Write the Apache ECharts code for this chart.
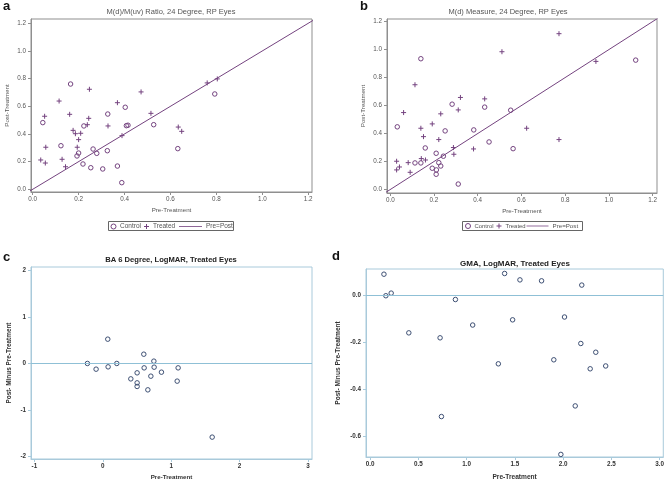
<!DOCTYPE html>
<html>
<head>
<meta charset="utf-8">
<script src="https://cdn.jsdelivr.net/npm/echarts@6/dist/echarts.min.js"></script>
<style>html,body{margin:0;padding:0;background:#fff}#c{width:667px;height:483px}</style>
</head>
<body>
<div id="c"></div>
<script>
// ---- Data ----
const aControl = [[0.165,0.761],[0.327,0.544],[0.403,0.593],[0.793,0.689],[0.044,0.482],[0.223,0.458],[0.200,0.262],[0.193,0.241],[0.123,0.315],[0.219,0.183],[0.253,0.156],[0.263,0.291],[0.279,0.260],[0.305,0.147],[0.325,0.279],[0.369,0.168],[0.388,0.048],[0.408,0.460],[0.415,0.463],[0.527,0.467],[0.632,0.294]];
const aTreated = [[0.115,0.638],[0.247,0.723],[0.052,0.528],[0.161,0.542],[0.244,0.513],[0.369,0.626],[0.472,0.704],[0.515,0.549],[0.760,0.769],[0.804,0.798],[0.238,0.467],[0.176,0.426],[0.186,0.402],[0.209,0.405],[0.200,0.359],[0.194,0.304],[0.057,0.304],[0.035,0.212],[0.055,0.190],[0.128,0.217],[0.143,0.163],[0.328,0.458],[0.389,0.388],[0.634,0.450],[0.649,0.419]];
const bControl = [[0.140,0.935],[1.123,0.925],[0.283,0.610],[0.432,0.589],[0.551,0.567],[0.032,0.448],[0.251,0.419],[0.382,0.426],[0.160,0.297],[0.452,0.340],[0.562,0.292],[0.210,0.259],[0.243,0.238],[0.140,0.190],[0.113,0.190],[0.222,0.192],[0.231,0.168],[0.192,0.152],[0.211,0.140],[0.210,0.109],[0.311,0.039]];
const bTreated = [[0.511,0.985],[0.772,1.114],[0.941,0.916],[0.113,0.749],[0.321,0.658],[0.432,0.648],[0.311,0.569],[0.061,0.550],[0.231,0.541],[0.140,0.438],[0.192,0.469],[0.152,0.378],[0.222,0.357],[0.624,0.438],[0.772,0.357],[0.381,0.290],[0.289,0.300],[0.291,0.252],[0.142,0.221],[0.161,0.211],[0.082,0.192],[0.029,0.202],[0.042,0.161],[0.029,0.140],[0.091,0.123]];
const cPoints = [[0.073,0.524],[0.600,0.200],[-0.225,0.0],[-0.098,-0.123],[0.078,-0.073],[0.205,0.0],[0.747,0.05],[0.605,-0.095],[0.751,-0.08],[1.102,-0.095],[0.502,-0.202],[0.858,-0.188],[0.410,-0.332],[0.703,-0.274],[0.502,-0.418],[0.502,-0.496],[0.659,-0.569],[1.088,-0.381],[1.600,-1.588]];
const dPoints = [[0.142,0.087],[0.162,-0.004],[0.217,0.007],[0.400,-0.161],[0.724,-0.182],[0.883,-0.020],[1.062,-0.128],[1.393,0.090],[1.476,-0.106],[1.552,0.063],[1.776,0.059],[2.014,-0.094],[2.193,0.041],[2.183,-0.206],[2.338,-0.243],[1.328,-0.292],[1.903,-0.275],[2.280,-0.313],[2.441,-0.301],[2.125,-0.470],[0.738,-0.515],[1.976,-0.675]];
const abTicks = [0,0.2,0.4,0.6,0.8,1.0,1.2];
const cXTicks = [-1,0,1,2,3];
const cYTicks = [-2,-1,0,1,2];
const dXTicks = [0,0.5,1.0,1.5,2.0,2.5,3.0];
const dYTicks = [-0.6,-0.4,-0.2,0.0];
const prePostLine = [[-0.1,-0.1],[1.3,1.3]];
const legendNames = ['Control','Treated','Pre=Post'];

// ---- Styles ----
const FONT = 'Liberation Sans';
const PURPLE = '#74437f';
const GRAYF = '#8f8f8f';
const BLUEF = '#a9cadb';
const BLUEREF = '#8fc0d6';
const CMARK = '#3d4f73';
const PLUS = 'path://M5,0L5,10M0,5L10,5';
const LINEICON = 'path://M0,0L40,0L40,1.4L0,1.4Z';

function axis(idx, ticks, min, max, color, labelColor, name, nameGap, dec, isY, nameSize, bold){
  return {
    type:'value', gridIndex:idx, min:min, max:max,
    name:name, nameLocation:'middle', nameGap:nameGap,
    nameTextStyle:{fontFamily:FONT,fontSize:nameSize,color:labelColor, fontWeight: bold?'bold':'normal'},
    axisLine:{show:true,onZero:false,lineStyle:{color:color,width:1}},
    axisTick:{show:true,length:3,customValues:ticks,lineStyle:{color:color}},
    axisLabel:{show:true,customValues:ticks,fontFamily:FONT,fontSize:6.3,color:labelColor,margin:isY?5:4,
      fontWeight: bold?'bold':'normal',
      formatter:function(v){return v.toFixed(dec);}},
    splitLine:{show:false}
  };
}
function pTitle(text,x,y,bold,color,size){
  return {text:text,left:x,top:y,textAlign:'center',padding:0,
    textStyle:{fontFamily:FONT,fontSize:size,fontWeight:bold?'bold':'normal',color:color}};
}
function letter(t,x,y){
  return {text:t,left:x,top:y,padding:0,textStyle:{fontFamily:FONT,fontSize:13,fontWeight:'bold',color:'#111'}};
}
function scat(name,data,xi,yi,sym,color,size){
  return {type:'scatter',name:name,xAxisIndex:xi,yAxisIndex:yi,data:data,symbol:sym,symbolSize:size,
    itemStyle:{color:'transparent',borderColor:color,borderWidth:1,opacity:1},
    emphasis:{disabled:true},silent:true,z:3};
}
function leg(name,x,y,icon,w,h,fs){
  return {left:x,top:y,padding:0,itemGap:0,itemWidth:w,itemHeight:h,selectedMode:false,
    textStyle:{fontFamily:FONT,fontSize:fs,color:'#555',padding:[0,0,0,-1]},
    data:[Object.assign({name:name,icon:icon}, name==='Pre=Post'?{itemStyle:{color:PURPLE,borderWidth:0}}:{itemStyle:{color:'transparent',borderColor:PURPLE,borderWidth:1}})]};
}

const option = {
  animation:false,
  backgroundColor:'#fff',
  title:[
    letter('a',3,0), letter('b',360,0), letter('c',3,251), letter('d',332,250),
    pTitle('M(d)/M(uv) Ratio, 24 Degree, RP Eyes',171,8,false,'#555',7.5),
    pTitle('M(d) Measure, 24 Degree, RP Eyes',508,8,false,'#555',7.5),
    pTitle('BA 6 Degree, LogMAR, Treated Eyes',171,256,true,'#222',7.6),
    pTitle('GMA, LogMAR, Treated Eyes',515,260,true,'#222',8)
  ],
  legend:[
    leg(legendNames[0],110.5,223,'circle',5,5,6.5),
    leg(legendNames[1],143.5,223,PLUS,5,5,6.5),
    leg(legendNames[2],179,223,LINEICON,23,5,6.5),
    leg(legendNames[0],465,223,'circle',5,5,5.9),
    leg(legendNames[1],496,223,PLUS,5,5,5.9),
    leg(legendNames[2],526.5,223,LINEICON,22,5,6.2)
  ],
  graphic:[
    {type:'rect',shape:{x:108.5,y:221.5,width:125,height:9},style:{fill:'none',stroke:'#666',lineWidth:1},silent:true},
    {type:'rect',shape:{x:462.5,y:221.5,width:120,height:9},style:{fill:'none',stroke:'#666',lineWidth:1},silent:true}
  ],
  grid:[
    {left:31,top:19,width:281,height:173,show:true,borderColor:GRAYF,borderWidth:1,containLabel:false},
    {left:387,top:19,width:270,height:174,show:true,borderColor:GRAYF,borderWidth:1,containLabel:false},
    {left:31,top:267,width:281,height:192,show:true,borderColor:BLUEF,borderWidth:1,containLabel:false},
    {left:366,top:269,width:298,height:188,show:true,borderColor:BLUEF,borderWidth:1,containLabel:false}
  ],
  xAxis:[
    axis(0,abTicks,-0.0074,1.2165,GRAYF,'#555','Pre-Treatment',15,1,false,6.2,false),
    axis(1,abTicks,-0.015,1.2205,GRAYF,'#555','Pre-Treatment',15,1,false,6.2,false),
    axis(2,cXTicks,-1.05,3.06,BLUEF,'#333','Pre-Treatment',15,0,false,6.2,true),
    axis(3,dXTicks,-0.044,3.038,BLUEF,'#333','Pre-Treatment',17,1,false,6.6,true)
  ],
  yAxis:[
    axis(0,abTicks,-0.0195,1.231,GRAYF,'#555','Post-Treatment',21,1,true,6.2,false),
    axis(1,abTicks,-0.025,1.219,GRAYF,'#555','Post-Treatment',21,1,true,6.2,false),
    axis(2,cYTicks,-2.06,2.08,BLUEF,'#333','Post- Minus Pre-Treatment',19,0,true,6.4,true),
    axis(3,dYTicks,-0.686,0.109,BLUEF,'#333','Post- Minus Pre-Treatment',24,1,true,6.6,true)
  ],
  series:[
    scat('Control',aControl,0,0,'circle',PURPLE,4.5),
    scat('Treated',aTreated,0,0,PLUS,PURPLE,5),
    {type:'line',name:'Pre=Post',xAxisIndex:0,yAxisIndex:0,data:prePostLine,symbol:'none',clip:true,
     lineStyle:{color:PURPLE,width:1},itemStyle:{color:PURPLE},silent:true,z:2},
    scat('Control',bControl,1,1,'circle',PURPLE,4.5),
    scat('Treated',bTreated,1,1,PLUS,PURPLE,5),
    {type:'line',name:'Pre=Post',xAxisIndex:1,yAxisIndex:1,data:prePostLine,symbol:'none',clip:true,
     lineStyle:{color:PURPLE,width:1},itemStyle:{color:PURPLE},silent:true,z:2},
    Object.assign(scat('BA',cPoints,2,2,'circle',CMARK,4.5),{
      markLine:{silent:true,symbol:'none',label:{show:false},lineStyle:{color:BLUEREF,width:1,type:'solid'},data:[{yAxis:0}]}}),
    Object.assign(scat('GMA',dPoints,3,3,'circle',CMARK,4.5),{
      markLine:{silent:true,symbol:'none',label:{show:false},lineStyle:{color:BLUEREF,width:1,type:'solid'},data:[{yAxis:0}]}})
  ]
};
const chart = echarts.init(document.getElementById('c'),null,{renderer:'canvas'});
chart.setOption(option);
</script>
</body>
</html>
